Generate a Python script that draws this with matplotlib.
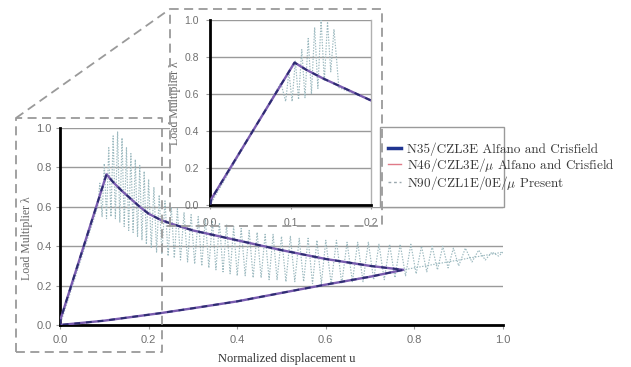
import numpy as np
import matplotlib
matplotlib.use("Agg")
import matplotlib.pyplot as plt
from matplotlib.lines import Line2D
from matplotlib.patches import Rectangle

plt.rcParams['mathtext.fontset'] = 'cm'

# N35 / N46 reference curves (loading, softening, snap-back to origin)
curve_u = [0.0, 0.002, 0.105, 0.12, 0.14, 0.16, 0.18, 0.20, 0.226, 0.25, 0.30, 0.40,
           0.50, 0.60, 0.70, 0.775, 0.70, 0.60, 0.54, 0.40, 0.30, 0.226, 0.10, 0.0]
curve_lam = [0.0, 0.035, 0.765, 0.725, 0.68, 0.64, 0.60, 0.565, 0.535, 0.515, 0.48, 0.43,
             0.38, 0.335, 0.30, 0.28, 0.245, 0.205, 0.18, 0.12, 0.085, 0.06, 0.022, 0.0]

# inset shows only the loading and softening part
inset_u = [0.0, 0.002, 0.105, 0.12, 0.14, 0.16, 0.18, 0.20]
inset_lam = [0.0, 0.035, 0.77, 0.73, 0.685, 0.645, 0.605, 0.565]

# N90 present: oscillating path (main plot)
band_u = [0.0, 0.085, 0.090, 0.095, 0.100, 0.105, 0.110, 0.115, 0.120, 0.125, 0.130,
          0.135, 0.140, 0.145, 0.150, 0.155, 0.160, 0.165, 0.170, 0.175, 0.180,
          0.185, 0.190, 0.195, 0.200, 0.206, 0.212, 0.218, 0.224, 0.230, 0.237,
          0.244, 0.251, 0.258, 0.265, 0.272, 0.280, 0.288, 0.296, 0.304, 0.312,
          0.320, 0.328, 0.336, 0.344, 0.352, 0.360, 0.368, 0.376, 0.384, 0.392,
          0.400, 0.409, 0.418, 0.427, 0.436, 0.445, 0.454, 0.463, 0.472, 0.481,
          0.490, 0.500, 0.510, 0.520, 0.530, 0.540, 0.550, 0.560, 0.570, 0.580,
          0.590, 0.600, 0.612, 0.624, 0.636, 0.648, 0.660, 0.672, 0.684, 0.696,
          0.708, 0.720, 0.732, 0.744, 0.756, 0.768, 0.780, 0.792, 0.804, 0.816,
          0.828, 0.840, 0.852, 0.864, 0.876, 0.888, 0.900, 0.915, 0.930, 0.945,
          0.960, 0.975, 0.990, 1.000, 0.775, 0.60, 0.40, 0.226, 0.10, 0.0]
band_lam = [0.0, 0.60, 0.72, 0.55, 0.82, 0.54, 0.90, 0.55, 0.96, 0.54, 0.98,
            0.52, 0.95, 0.50, 0.90, 0.48, 0.87, 0.47, 0.84, 0.45, 0.81,
            0.43, 0.78, 0.41, 0.74, 0.39, 0.70, 0.37, 0.66, 0.36, 0.63,
            0.35, 0.61, 0.34, 0.59, 0.33, 0.57, 0.32, 0.56, 0.31, 0.55,
            0.30, 0.54, 0.29, 0.53, 0.28, 0.52, 0.27, 0.51, 0.26, 0.50,
            0.25, 0.49, 0.25, 0.48, 0.24, 0.47, 0.24, 0.46, 0.23, 0.46,
            0.23, 0.45, 0.22, 0.45, 0.22, 0.44, 0.22, 0.44, 0.21, 0.43,
            0.21, 0.43, 0.21, 0.43, 0.21, 0.42, 0.22, 0.42, 0.22, 0.42,
            0.23, 0.41, 0.23, 0.41, 0.24, 0.41, 0.25, 0.41, 0.26, 0.40,
            0.27, 0.40, 0.28, 0.40, 0.29, 0.39, 0.30, 0.39, 0.32, 0.38,
            0.33, 0.37, 0.35, 0.37, 0.28, 0.205, 0.12, 0.06, 0.022, 0.0]

# N90 present in the zoomed inset
inset_band_u = [0.0, 0.088, 0.094, 0.098, 0.102, 0.106, 0.110, 0.114, 0.118, 0.122,
                0.126, 0.130, 0.134, 0.138, 0.142, 0.146, 0.150, 0.154, 0.157, 0.160,
                0.18, 0.20]
inset_band_lam = [0.0, 0.66, 0.56, 0.72, 0.56, 0.78, 0.57, 0.84, 0.58, 0.90,
                  0.60, 0.96, 0.63, 1.00, 0.67, 0.99, 0.72, 0.95, 0.80, 0.635,
                  0.60, 0.565]

main_ticks = [0.0, 0.2, 0.4, 0.6, 0.8, 1.0]
inset_xticks = [0.0, 0.1, 0.2]

labels = ["N35/CZL3E Alfano and Crisfield",
          r"N46/CZL3E/$\mu$ Alfano and Crisfield",
          r"N90/CZL1E/0E/$\mu$ Present"]

W, H = 631, 367
fig = plt.figure(figsize=(W / 100, H / 100), dpi=100)

grey_txt = '#707070'
band_col = '#9dbac0'


def style_axes(ax, xticks, size):
    ax.set_ylim(0, 1.0)
    ax.set_yticks(main_ticks)
    ax.set_xticks(xticks)
    ax.set_xticklabels(['%.1f' % t for t in xticks])
    ax.set_yticklabels(['%.1f' % t for t in main_ticks])
    ax.grid(axis='y', color='#9a9a9a', lw=1.0)
    ax.set_axisbelow(True)
    ax.spines['left'].set_linewidth(2.0)
    ax.spines['bottom'].set_linewidth(2.0)
    for s in ('left', 'bottom'):
        ax.spines[s].set_color('black')
    ax.tick_params(length=3, color='#999999', labelcolor=grey_txt, labelsize=size)
    for lab in ax.get_xticklabels() + ax.get_yticklabels():
        lab.set_family('Liberation Sans')


def draw_curves(ax, cu, cl, bu, bl):
    ax.plot(bu, bl, color=band_col, lw=0.85, ls=(0, (1.2, 1.2)), zorder=2)
    ax.plot(cu, cl, color='#7a5cb0', lw=1.7, zorder=3)
    ax.plot(cu, cl, color='#2c2c70', lw=1.4, ls=(0, (3, 3)), zorder=4)


# main axes
ax = fig.add_axes([60 / W, 1 - 325 / H, 443 / W, 197 / H], zorder=0)
draw_curves(ax, curve_u, curve_lam, band_u, band_lam)
ax.set_xlim(0, 1.0)
style_axes(ax, main_ticks, 8)
ax.spines['top'].set_visible(False)
ax.spines['right'].set_visible(False)
ax.tick_params(axis='x', pad=4)
ax.tick_params(axis='y', pad=3)
ax.set_ylabel("Load Multiplier λ", family='Liberation Serif', fontsize=8.5, color='#666666')
ax.yaxis.set_label_coords(-0.061, 0.44)
ax.set_xlabel("Normalized displacement u", family='Liberation Serif', fontsize=9, color='#333333')
ax.xaxis.set_label_coords(0.512, -0.14)

# white background of the zoom box, legend frame
fig.add_artist(Rectangle((170 / W, 1 - 207 / H), 212 / W, 198 / H, transform=fig.transFigure,
                         facecolor='white', edgecolor='none', zorder=0.5))
fig.add_artist(Rectangle((380 / W, 1 - 207 / H), 124 / W, 80 / H, transform=fig.transFigure,
                         facecolor='white', edgecolor='#9a9a9a', lw=1.0, zorder=0.6))

# inset axes
axi = fig.add_axes([210 / W, 1 - 205 / H, 161 / W, 185 / H], zorder=1)
draw_curves(axi, inset_u, inset_lam, inset_band_u, inset_band_lam)
axi.set_xlim(0, 0.2)
style_axes(axi, inset_xticks, 7.5)
axi.spines['top'].set_visible(False)
axi.spines['right'].set_color('#b0b0b0')
axi.spines['right'].set_linewidth(1.0)
axi.tick_params(axis='x', pad=6)
axi.tick_params(axis='y', pad=5)
axi.set_ylabel("Load Multiplier λ", family='Liberation Serif', fontsize=8.5, color='#666666')
axi.yaxis.set_label_coords(-0.18, 0.55)


# dashed zoom boxes
def fline(xs, ys):
    fig.add_artist(Line2D([x / W for x in xs], [1 - y / H for y in ys],
                          transform=fig.transFigure, color='#9a9a9a', lw=1.3,
                          ls=(0, (5, 3)), zorder=3))


fline([16, 16, 162, 162, 16], [352, 118, 118, 352, 352])
fline([16, 170], [118, 9])
fline([170, 170, 382, 382, 162], [226, 9, 9, 226, 226])

# legend
handles = [Line2D([], [], color='#1f3490', lw=2.5),
           Line2D([], [], color='#e07a88', lw=1.0),
           Line2D([], [], color='#9aa8ae', lw=1.0, ls=(0, (2, 2)))]
fig.legend(handles, labels, loc='upper left', bbox_to_anchor=(388 / W, 1 - 142 / H),
           frameon=False, prop={'family': 'cmr10', 'size': 9.5}, labelcolor='#3a3a3a',
           handlelength=1.0, handletextpad=0.45, labelspacing=0.02, borderpad=0,
           borderaxespad=0)

fig.savefig("out.png", dpi=100)
